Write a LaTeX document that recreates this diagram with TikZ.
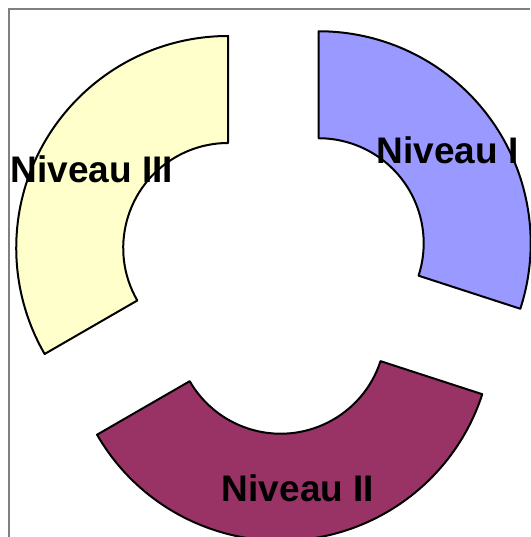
\documentclass[tikz,border=0pt]{standalone}
\usepackage{fontspec}
\setmainfont{Liberation Sans}
\usetikzlibrary{calc}
\definecolor{cI}{HTML}{9999FF}
\definecolor{cII}{HTML}{993366}
\definecolor{cIII}{HTML}{FFFFCC}
\definecolor{frame}{HTML}{808080}
\tikzset{
  seg/.style={draw=black, line width=2pt, line join=round},
  lab/.style={anchor=base, inner sep=0pt, font=\fontsize{37}{40}\selectfont\bfseries},
}
\newcommand{\donutseg}[5]{% center, start, end, color
  \path[seg, fill=#4] ($(#1)+(#2:212)$) arc[start angle=#2, end angle=#3, radius=212]
    -- ($(#1)+(#3:105)$) arc[start angle=#3, end angle=#2, radius=105] -- cycle;}
\begin{document}
\begin{tikzpicture}[x=1pt,y=1pt]
\useasboundingbox (0,0) rectangle (530,537);
\fill[white] (0,0) rectangle (530,537);
\draw[frame, line width=1.5pt] (9,0) -- (9,528) -- (530,528);
\coordinate (c0) at (275,262);
\coordinate (c1) at ($(c0)+(36:54)$);
\coordinate (c2) at ($(c0)+(276:54)$);
\coordinate (c3) at ($(c0)+(150:54)$);
\donutseg{c1}{-18}{90}{cI}{}
\donutseg{c2}{210}{342}{cII}{}
\donutseg{c3}{90}{210}{cIII}{}
\node[lab] (l1) at (447.5,373) {Niveau I};
\node[lab] (l2) at (298,35) {Niveau II};
\node[lab] (l3) at (92,354) {Niveau III};
\end{tikzpicture}
\end{document}
